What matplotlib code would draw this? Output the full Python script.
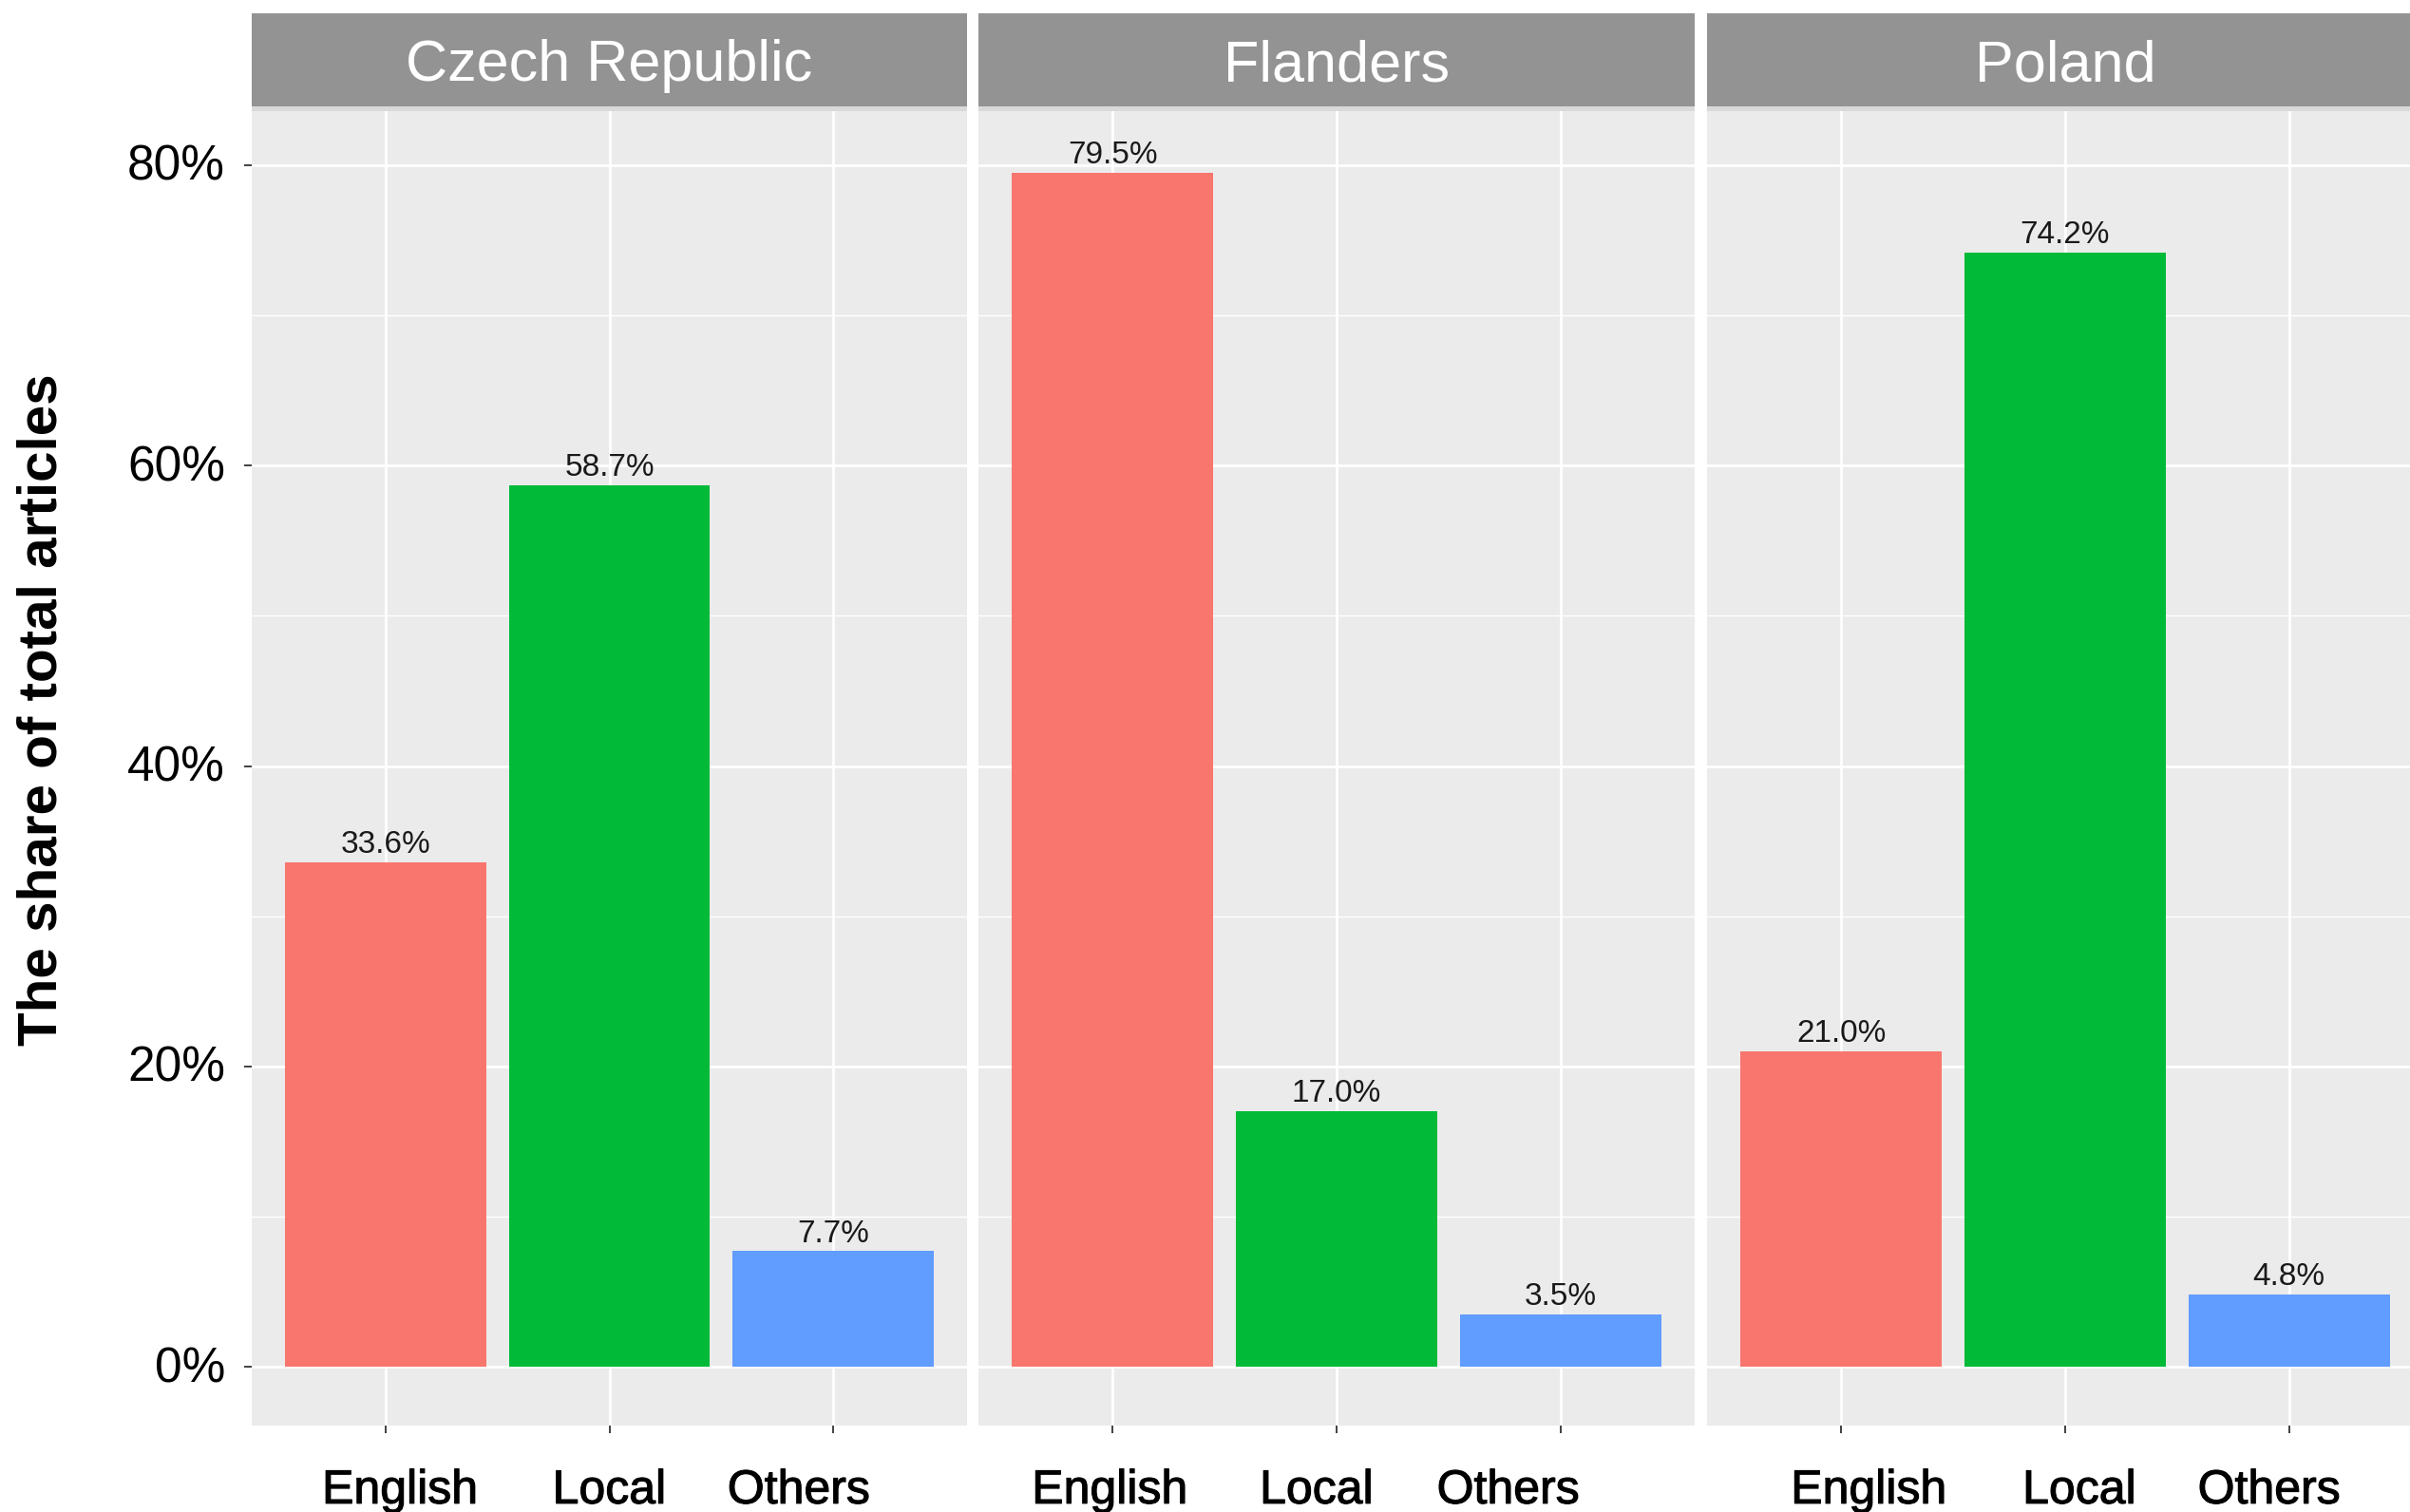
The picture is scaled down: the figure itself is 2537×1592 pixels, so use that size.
import matplotlib
matplotlib.use("Agg")
import matplotlib.pyplot as plt
import matplotlib.patheffects as pe
from matplotlib.patches import Rectangle
from matplotlib.transforms import ScaledTranslation

# ---- data ----
regions = ["Czech Republic", "Flanders", "Poland"]
languages = ["English", "Local", "Others"]
english = [33.6, 79.5, 21.0]
local = [58.7, 17.0, 74.2]
others = [7.7, 3.5, 4.8]
y_ticks = [0, 20, 40, 60, 80]
y_tick_labels = ["0%", "20%", "40%", "60%", "80%"]
y_title = "The share of total articles"

colors = ["#F8766D", "#00BA38", "#619CFF"]

plt.rcParams["font.family"] = ["Liberation Sans", "DejaVu Sans"]

W, H = 2537, 1592
DPI = 100
fig = plt.figure(figsize=(W / DPI, H / DPI), dpi=DPI)

# layout in pixels
panel_lr = [(265, 1018), (1030, 1784), (1797, 2551)]
ax_top, ax_bot = 112, 1501
strip_top = 14
# per-label horizontal nudges (pixels) to mimic the reference placement
label_nudges = [[15, 0, -36], [-3, -21, -55], [29, 15, -21]]

def fx(px):
    return px / W

def fy(py):
    return 1 - py / H

series = [english, local, others]
for i, region in enumerate(regions):
    l, r = panel_lr[i]
    ax = fig.add_axes([fx(l), fy(ax_bot), (r - l) / W, (ax_bot - ax_top) / H])
    ax.set_facecolor("#EBEBEB")
    vals = [s[i] for s in series]
    xs = list(range(1, len(languages) + 1))
    ax.bar(xs, vals, width=0.9, color=colors, zorder=3)
    for x, v in zip(xs, vals):
        ax.annotate(f"{v:.1f}%", (x, v), xytext=(0, 7), textcoords="offset points",
                    ha="center", va="baseline", fontsize=24, color="#1a1a1a", zorder=4)
    ax.set_xlim(0.4, 3.6)
    ax.set_ylim(-3.92, 83.92)
    ax.set_yticks(y_ticks)
    ax.set_yticks([10, 30, 50, 70], minor=True)
    ax.set_xticks(xs)
    ax.set_xticklabels(languages, fontsize=36)
    ax.grid(which="major", axis="both", color="white", linewidth=2.0, zorder=1)
    ax.grid(which="minor", axis="y", color="white", linewidth=1.0, zorder=1)
    ax.tick_params(axis="x", which="major", length=6, width=1.3, color="#333333", pad=27)
    ax.tick_params(axis="y", which="minor", length=0)
    if i == 0:
        ax.set_yticklabels(y_tick_labels, fontsize=37)
        ax.tick_params(axis="y", which="major", length=6, width=1.3, color="#333333", pad=14)
        for lab in ax.get_yticklabels():
            lab.set_transform(lab.get_transform() + ScaledTranslation(0, 3 / DPI, fig.dpi_scale_trans))
    else:
        ax.tick_params(axis="y", which="major", length=0, labelleft=False)
    for sp in ax.spines.values():
        sp.set_visible(False)
    for lab, dx in zip(ax.get_xticklabels(), label_nudges[i]):
        lab.set_transform(lab.get_transform() + ScaledTranslation(dx / DPI, 0, fig.dpi_scale_trans))
        lab.set_path_effects([pe.withStroke(linewidth=0.8, foreground="black")])

    # strip
    fig.patches.append(Rectangle((fx(l), fy(ax_top)), (r - l) / W, (ax_top - strip_top) / H,
                                 transform=fig.transFigure, facecolor="#939393",
                                 edgecolor="none", zorder=5))
    fig.patches.append(Rectangle((fx(l), fy(ax_top + 5)), (r - l) / W, 5 / H,
                                 transform=fig.transFigure, facecolor="#D9D9D9",
                                 edgecolor="none", zorder=5))
    fig.text(fx((l + r) / 2), fy((strip_top + ax_top) / 2 + 7), region, ha="center",
             va="center", fontsize=44, color="white", zorder=6)

fig.text(fx(45), fy(747), y_title, rotation=90, ha="center", va="center",
         fontsize=42, fontweight="bold", color="black")

fig.savefig("out.png", dpi=DPI, facecolor="white")
